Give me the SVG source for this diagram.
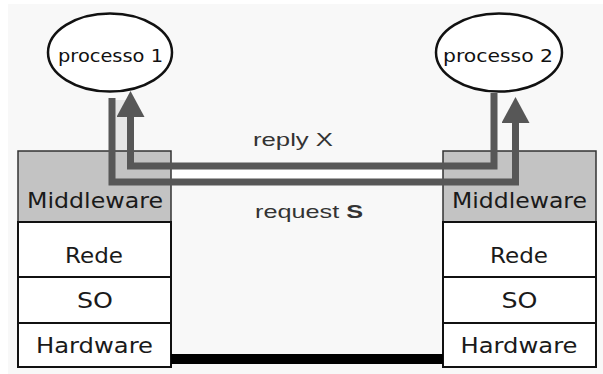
<svg xmlns="http://www.w3.org/2000/svg" width="603" height="374" viewBox="0 0 603 374">
  <style>
    .layer { fill: #ffffff; stroke: #111111; stroke-width: 2; }
    .mw { fill: #c3c3c3; stroke: #333333; stroke-width: 1.5; }
    .lbl { font-family: "DejaVu Sans", "Liberation Sans", sans-serif; font-size: 21px; fill: #1a1a1a; text-anchor: middle; }
    .proc { fill: #ffffff; stroke: #111111; stroke-width: 2.5; }
    .ptxt { font-family: "DejaVu Sans", "Liberation Sans", sans-serif; font-size: 18px; fill: #111111; text-anchor: middle; }
    .msg { font-family: "Liberation Sans", Arial, sans-serif; font-size: 19px; fill: #333333; }
    .wire { fill: none; stroke: #575757; stroke-width: 7; stroke-linejoin: miter; }
  </style>
  <defs>
    <marker id="head" markerUnits="userSpaceOnUse" viewBox="0 0 26 28" markerWidth="26" markerHeight="28" refX="0" refY="14" orient="auto">
      <path d="M0,0 L26,14 L0,28 Z" fill="#575757"/>
    </marker>
  </defs>

  <!-- page -->
  <rect x="0" y="0" width="603" height="374" fill="#ffffff"/>
  <rect x="8" y="4" width="595" height="370" fill="#f8f8f8"/>

  <!-- channel between the two message lines -->
  <rect x="115" y="100" width="12" height="75" fill="#e6e6e6"/>
  <rect x="115" y="169" width="404" height="10" fill="#ffffff"/>

  <!-- host 1 stack -->
  <g id="host1">
    <rect class="mw" x="18" y="151" width="153" height="71"/>
    <rect class="layer" x="18" y="222" width="153" height="55"/>
    <rect class="layer" x="18" y="277" width="153" height="46"/>
    <rect class="layer" x="18" y="323" width="153" height="44"/>
    <text class="lbl" x="95" y="208" textLength="136" lengthAdjust="spacingAndGlyphs">Middleware</text>
    <text class="lbl" x="94" y="263" textLength="58" lengthAdjust="spacingAndGlyphs">Rede</text>
    <text class="lbl" x="95" y="308" textLength="36" lengthAdjust="spacingAndGlyphs">SO</text>
    <text class="lbl" x="94.5" y="353" textLength="117" lengthAdjust="spacingAndGlyphs">Hardware</text>
  </g>

  <!-- host 2 stack -->
  <g id="host2">
    <rect class="mw" x="443" y="151" width="153" height="71"/>
    <rect class="layer" x="443" y="222" width="153" height="55"/>
    <rect class="layer" x="443" y="277" width="153" height="46"/>
    <rect class="layer" x="443" y="323" width="153" height="44"/>
    <text class="lbl" x="519.5" y="208" textLength="135" lengthAdjust="spacingAndGlyphs">Middleware</text>
    <text class="lbl" x="519" y="263" textLength="58" lengthAdjust="spacingAndGlyphs">Rede</text>
    <text class="lbl" x="519.5" y="308" textLength="36" lengthAdjust="spacingAndGlyphs">SO</text>
    <text class="lbl" x="519" y="353" textLength="117" lengthAdjust="spacingAndGlyphs">Hardware</text>
  </g>

  <!-- physical link -->
  <g id="link">
    <rect x="171" y="354" width="272" height="10" fill="#000000"/>
  </g>

  <!-- messages -->
  <g id="connectors">
    <path class="wire" d="M112,98 V182 H515.5 V123" marker-end="url(#head)"/>
    <path class="wire" d="M494,93 V166 H130.5 V117" marker-end="url(#head)"/>
    <text class="msg" x="253" y="146" textLength="80" lengthAdjust="spacingAndGlyphs">reply X</text>
    <text class="msg" x="255" y="218" textLength="108" lengthAdjust="spacingAndGlyphs">request <tspan font-weight="bold">S</tspan></text>
  </g>

  <!-- processes -->
  <g id="processo1">
    <ellipse class="proc" cx="110" cy="52.5" rx="62" ry="39"/>
    <text class="ptxt" x="110.5" y="62" textLength="105" lengthAdjust="spacingAndGlyphs">processo 1</text>
  </g>
  <g id="processo2">
    <ellipse class="proc" cx="499" cy="52.5" rx="63" ry="39"/>
    <text class="ptxt" x="498" y="62" textLength="110" lengthAdjust="spacingAndGlyphs">processo 2</text>
  </g>
</svg>
